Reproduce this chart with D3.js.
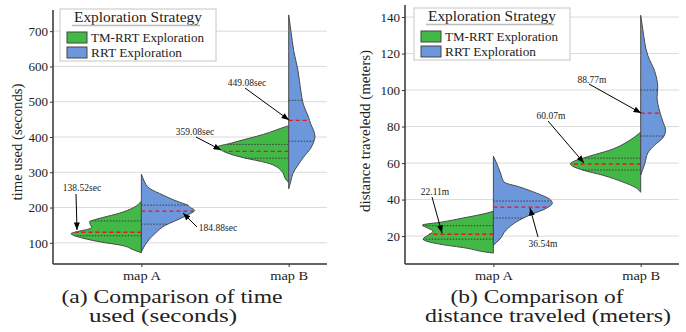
<!DOCTYPE html>
<html>
<head>
<meta charset="utf-8">
<script src="https://cdn.jsdelivr.net/npm/d3@7"></script>
<style>
  body { margin: 0; background: #fff; }
  svg text { font-family: "Liberation Serif", "Times New Roman", serif; fill: #222; }
</style>
</head>
<body>
<svg id="chart" width="686" height="332"></svg>
<script>
// ---- data ----
const categories = ["map A", "map B"];
const strategies = ["TM-RRT Exploration", "RRT Exploration"];
const strategyColors = ["#42b846", "#6d97db"];

const timeTicks = [100, 200, 300, 400, 500, 600, 700];
const distTicks = [20, 40, 60, 80, 100, 120, 140];

// density profiles, [value, relative density], bottom to top
const timeTmA = [[72,0],[80,.11],[93,.28],[102,.56],[113,.82],[120,.94],[126,.99],[132,.9],[138,.76],[144,.7],[152,.72],[160,.73],[166,.65],[172,.54],[184,.31],[200,.11],[218,0]];
const timeRrtA = [[74,0],[102,.08],[128,.2],[150,.34],[160,.45],[170,.56],[180,.66],[192,.75],[200,.69],[207,.65],[215,.54],[222,.45],[235,.31],[255,.11],[275,.04],[295,0]];
const timeTmB = [[271,0],[277,.03],[306,.11],[327,.31],[341,.63],[355,.87],[364,.96],[372,1],[382,.82],[392,.64],[402,.45],[413,.27],[424,.12],[432,0]];
const timeRrtB = [[253,0],[275,.03],[297,.06],[320,.13],[343,.21],[368,.31],[385,.35],[400,.37],[419,.35],[437,.31],[456,.28],[490,.21],[532,.17],[589,.13],[645,.07],[702,.03],[746,0]];

const distTmA = [[10.7,0],[11.2,.1],[13.4,.38],[15.6,.76],[18.3,.99],[20.5,.92],[22.7,.85],[24.5,.93],[26,1],[27.7,.72],[29.8,.44],[32.5,.1],[33.6,0]];
const distRrtA = [[15,0],[17.8,.08],[23.3,.18],[27.7,.32],[31.5,.51],[35.3,.75],[38,.83],[40.3,.79],[43.5,.61],[46.9,.37],[49.6,.15],[54.5,.1],[60.5,.04],[63.8,0]];
const distTmB = [[44,0],[46.3,.06],[49.6,.25],[53.4,.54],[56.2,.82],[59.5,.99],[63.8,.72],[67,.44],[72.6,.15],[77,0]];
const distRrtB = [[53.4,0],[60,.06],[65.5,.1],[70,.2],[73.7,.31],[78,.35],[83,.31],[88,.27],[96,.23],[101.6,.24],[110,.2],[119,.1],[133,.03],[141,0]];

// quartiles [q1, median, q3] per map, per strategy
const timeTmStats = [[120, 130, 162], [340, 359, 379]];
const timeRrtStats = [[153, 190, 207], [388, 447, 504]];
const distTmStats = [[18.3, 21, 25.7], [56.2, 59.5, 62.7]];
const distRrtStats = [[29.9, 35.9, 39.2], [74.8, 87.4, 100]];

const timeNotes = ["138.52sec", "184.88sec", "359.08sec", "449.08sec"];
const distNotes = ["22.11m", "36.54m", "60.07m", "88.77m"];

const timeLabel = "time used (seconds)";
const distLabel = "distance traveledd (meters)";
const timeCaption = ["(a) Comparison of time", "used (seconds)"];
const distCaption = ["(b) Comparison of", "distance traveled (meters)"];

// ---- drawing ----
const svg = d3.select("#chart");
svg.append("rect").attr("width", 686).attr("height", 332).attr("fill", "#fff");

svg.append("defs").append("marker")
    .attr("id", "arrow")
    .attr("viewBox", "0 0 10 8")
    .attr("refX", 10).attr("refY", 4)
    .attr("markerWidth", 8).attr("markerHeight", 6)
    .attr("markerUnits", "userSpaceOnUse")
    .attr("orient", "auto")
  .append("path").attr("d", "M0,0 L10,4 L0,8 z").attr("fill", "#000");

function widthAt(profile, v) {
    for (let i = 1; i < profile.length; i++) {
        const a = profile[i - 1], b = profile[i];
        if (v >= a[0] && v <= b[0]) return a[1] + (b[1] - a[1]) * (v - a[0]) / (b[0] - a[0]);
    }
    return 0;
}

function drawPanel(p) {
    const g = svg.append("g");
    const y = d3.scaleLinear().domain(p.yDomain).range([264, p.top]);
    const x = d3.scaleLinear().domain([-0.6, 1.26]).range([p.left, p.right]);
    const w = d3.scaleLinear().domain([0, 1]).range([0, 71]);

    // grid
    g.selectAll(".grid").data(p.ticks).join("line")
        .attr("x1", p.left).attr("x2", p.right)
        .attr("y1", d => y(d)).attr("y2", d => y(d))
        .attr("stroke", "#dadada").attr("stroke-width", 1);

    // violins
    const groups = [];
    categories.forEach((c, i) => {
        groups.push({ cat: i, side: -1, color: strategyColors[0], prof: p.profiles[0][i], stats: p.stats[0][i] });
        groups.push({ cat: i, side: 1, color: strategyColors[1], prof: p.profiles[1][i], stats: p.stats[1][i] });
    });

    groups.forEach(gr => {
        const cx = x(gr.cat);
        const area = d3.area()
            .curve(d3.curveMonotoneY)
            .y(d => y(d[0]))
            .x0(cx)
            .x1(d => cx + gr.side * w(d[1]));
        g.append("path").datum(gr.prof)
            .attr("d", area)
            .attr("fill", gr.color)
            .attr("stroke", "#4a4a4a").attr("stroke-width", 1);

        gr.stats.forEach((v, k) => {
            g.append("line")
                .attr("x1", cx).attr("x2", cx + gr.side * w(widthAt(gr.prof, v)))
                .attr("y1", y(v)).attr("y2", y(v))
                .attr("stroke", k === 1 ? "#e8161e" : "#3c3c3c")
                .attr("stroke-width", k === 1 ? 1.3 : 1)
                .attr("stroke-dasharray", k === 1 ? "4,3" : "1.5,1.5");
        });
    });

    // axes
    const yAxis = d3.axisLeft(y).tickValues(p.ticks).tickSize(3).tickPadding(2);
    const ya = g.append("g").attr("transform", `translate(${p.left},0)`).call(yAxis);
    ya.select(".domain").attr("stroke", "#333").attr("stroke-width", 1.5).attr("d", `M0,${p.top}V264`);
    ya.selectAll(".tick line").attr("stroke", "#333");
    ya.selectAll(".tick text").attr("font-size", 13).attr("fill", "#222");

    const xAxis = d3.axisBottom(x).tickValues([0, 1]).tickFormat(i => categories[i]).tickSize(3).tickPadding(4);
    const xa = g.append("g").attr("transform", "translate(0,264)").call(xAxis);
    xa.select(".domain").attr("stroke", "#333").attr("stroke-width", 1.5).attr("d", `M${p.left},0H${p.right}`);
    xa.selectAll(".tick line").attr("stroke", "#333");
    xa.selectAll(".tick text").attr("font-size", 12).attr("fill", "#222")
        .attr("textLength", 38).attr("lengthAdjust", "spacingAndGlyphs");

    // y label
    g.append("text")
        .attr("transform", `translate(${p.labelX},${p.labelY}) rotate(-90)`)
        .attr("text-anchor", "middle")
        .attr("font-size", 14)
        .attr("textLength", p.labelLen).attr("lengthAdjust", "spacingAndGlyphs")
        .text(p.label);

    // annotations
    p.notes.forEach((n, k) => {
        const a = p.arrows[k];
        g.append("text").attr("x", a.tx).attr("y", a.ty)
            .attr("text-anchor", "middle").attr("font-size", 9.5).text(n);
        g.append("line")
            .attr("x1", a.x1).attr("y1", a.y1).attr("x2", a.x2).attr("y2", a.y2)
            .attr("stroke", "#000").attr("stroke-width", 1)
            .attr("marker-end", "url(#arrow)");
    });

    // legend
    const lg = g.append("g").attr("transform", `translate(${p.legend[0]},${p.legend[1]})`);
    lg.append("rect").attr("width", 156).attr("height", 52)
        .attr("fill", "#fff").attr("stroke", "#cfcfcf").attr("stroke-width", 1.2);
    lg.append("text").attr("x", 78).attr("y", 13).attr("text-anchor", "middle")
        .attr("font-size", 14).attr("textLength", 128).attr("lengthAdjust", "spacingAndGlyphs")
        .text("Exploration Strategy");
    lg.append("line").attr("x1", 12).attr("x2", 140).attr("y1", 16.5).attr("y2", 16.5)
        .attr("stroke", "#bbb").attr("stroke-width", 1.5);
    const entryLen = [113, 91];
    strategies.forEach((s, k) => {
        lg.append("rect").attr("x", 7).attr("y", 23 + k * 15).attr("width", 20).attr("height", 11)
            .attr("fill", strategyColors[k]).attr("stroke", "#444").attr("stroke-width", 1);
        lg.append("text").attr("x", 31).attr("y", 33 + k * 15).attr("font-size", 13)
            .attr("textLength", entryLen[k]).attr("lengthAdjust", "spacingAndGlyphs").text(s);
    });

    // caption
    p.caption.forEach((t, k) => {
        svg.append("text").attr("x", p.capX[k]).attr("y", 303 + k * 19)
            .attr("text-anchor", "middle").attr("font-size", 19)
            .attr("textLength", p.capLen[k]).attr("lengthAdjust", "spacingAndGlyphs")
            .text(t);
    });
}

drawPanel({
    left: 53, right: 327, top: 10, yDomain: [40, 760], ticks: timeTicks,
    profiles: [[timeTmA, timeTmB], [timeRrtA, timeRrtB]],
    stats: [timeTmStats, timeRrtStats],
    label: timeLabel, labelX: 22, labelY: 142, labelLen: 117,
    notes: timeNotes,
    arrows: [
        { tx: 82, ty: 191, x1: 76, y1: 194, x2: 77, y2: 230 },
        { tx: 218, ty: 231, x1: 197, y1: 227, x2: 183, y2: 213 },
        { tx: 195, ty: 135, x1: 196, y1: 137, x2: 221, y2: 150 },
        { tx: 247, ty: 86, x1: 245, y1: 88, x2: 289, y2: 120 }
    ],
    legend: [60, 9],
    caption: timeCaption, capX: [172, 163], capLen: [221, 148]
});

drawPanel({
    left: 405, right: 679, top: 5, yDomain: [4.7, 146.6], ticks: distTicks,
    profiles: [[distTmA, distTmB], [distRrtA, distRrtB]],
    stats: [distTmStats, distRrtStats],
    label: distLabel, labelX: 370, labelY: 131, labelLen: 162,
    notes: distNotes,
    arrows: [
        { tx: 435, ty: 195, x1: 432, y1: 197, x2: 442, y2: 233 },
        { tx: 543, ty: 247, x1: 538, y1: 237, x2: 530, y2: 208 },
        { tx: 551, ty: 119, x1: 548, y1: 121, x2: 584, y2: 163 },
        { tx: 592, ty: 83, x1: 589, y1: 84, x2: 641, y2: 113 }
    ],
    legend: [414, 8],
    caption: distCaption, capX: [537, 548], capLen: [173, 246]
});
</script>
</body>
</html>
